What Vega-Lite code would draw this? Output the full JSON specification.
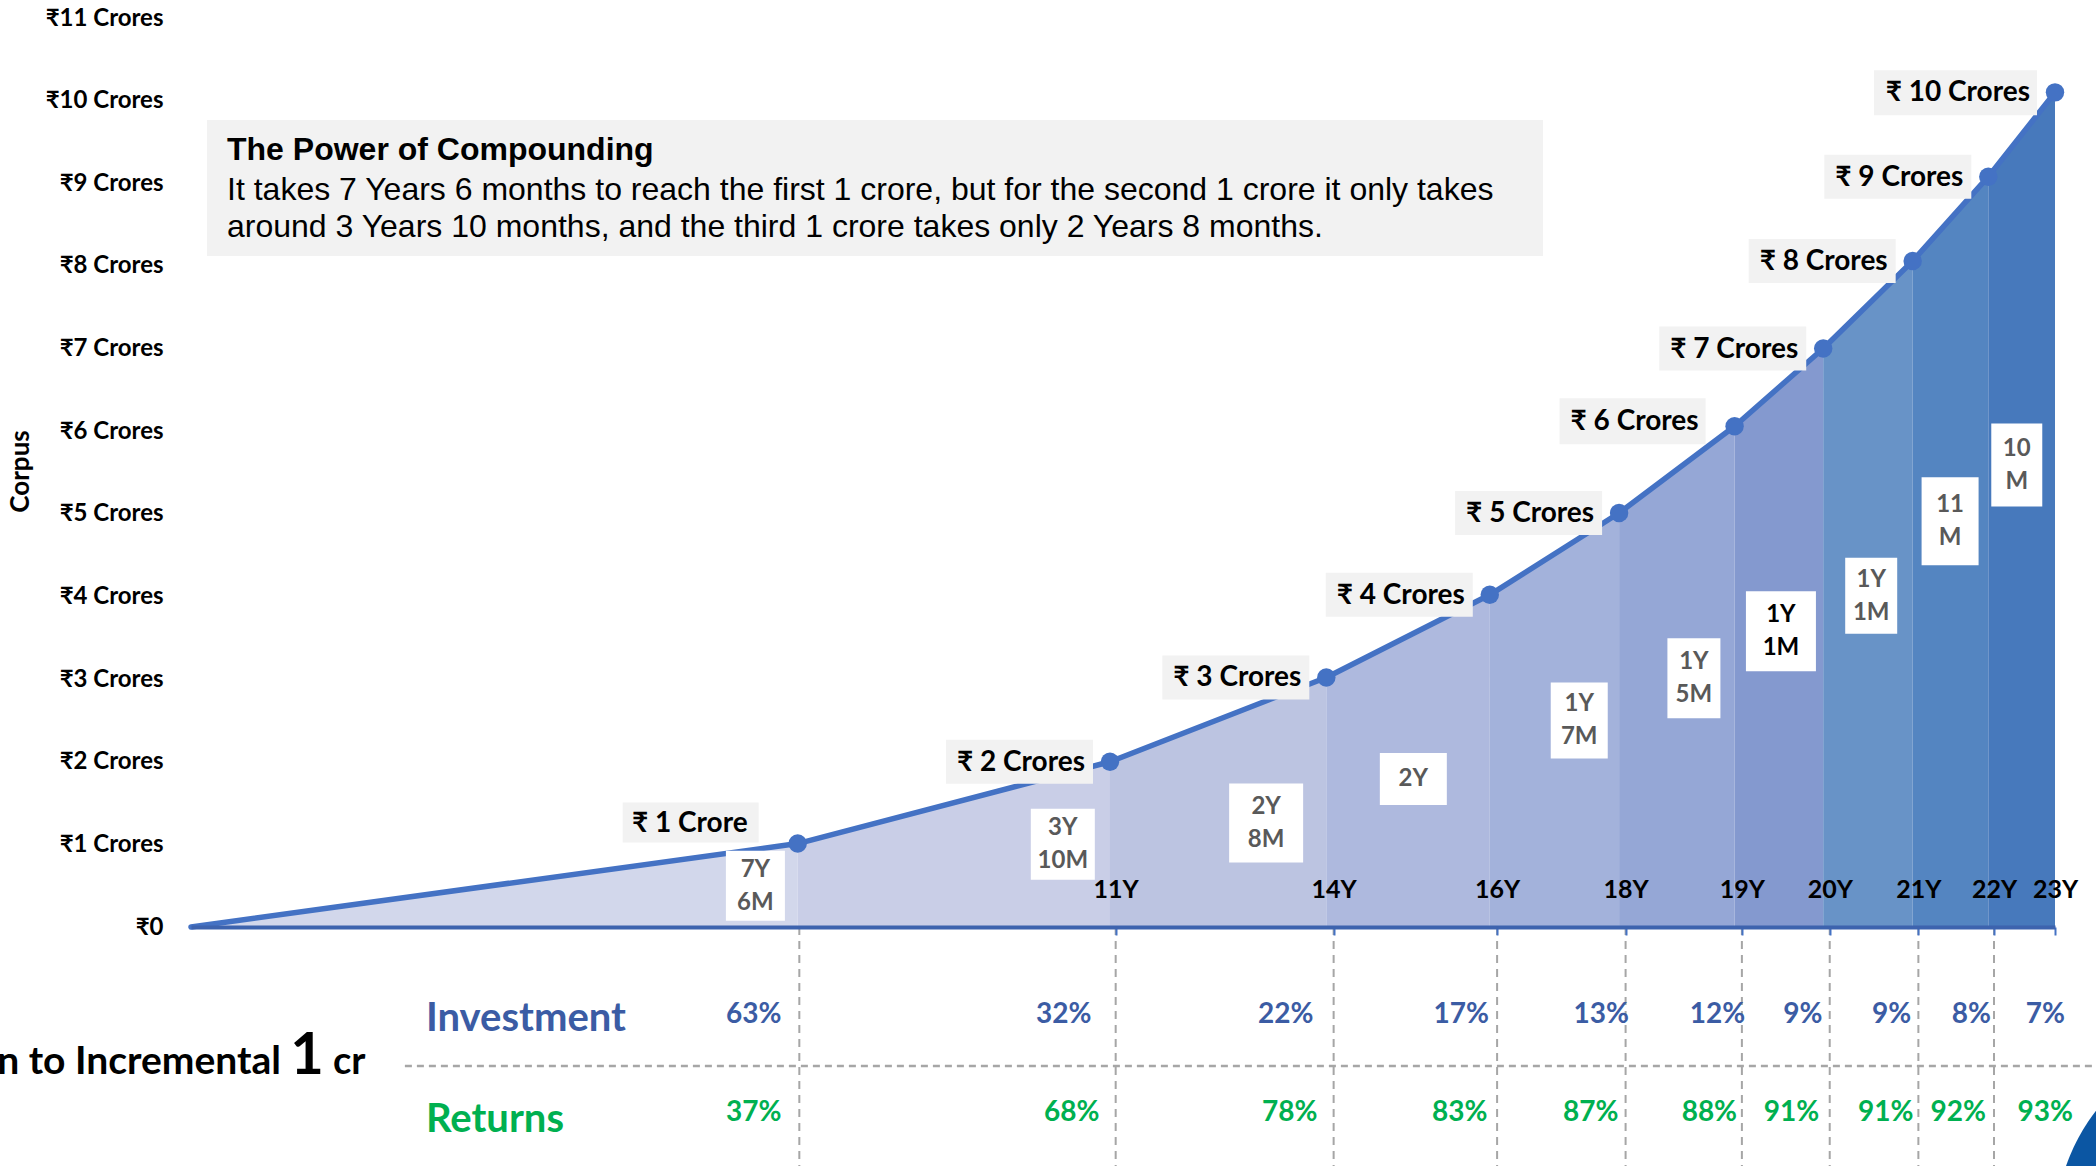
{
  "$schema": "https://vega.github.io/schema/vega-lite/v6.json",
  "width": 1864,
  "height": 1148,
  "autosize": {"type": "none"},
  "padding": {"left": 191, "top": 18, "right": 41, "bottom": 0},
  "background": "white",
  "config": {"view": {"stroke": null}, "axis": {"grid": false}},
  "datasets": {
    "pts": [
      {"seg": 1, "year": 0, "corpus": 0}, {"seg": 1, "year": 7.46, "corpus": 1.01},
      {"seg": 2, "year": 7.46, "corpus": 1.01}, {"seg": 2, "year": 11.3, "corpus": 2.0},
      {"seg": 3, "year": 11.3, "corpus": 2.0}, {"seg": 3, "year": 13.96, "corpus": 3.02},
      {"seg": 4, "year": 13.96, "corpus": 3.02}, {"seg": 4, "year": 15.97, "corpus": 4.02},
      {"seg": 5, "year": 15.97, "corpus": 4.02}, {"seg": 5, "year": 17.56, "corpus": 5.01},
      {"seg": 6, "year": 17.56, "corpus": 5.01}, {"seg": 6, "year": 18.98, "corpus": 6.06},
      {"seg": 7, "year": 18.98, "corpus": 6.06}, {"seg": 7, "year": 20.07, "corpus": 7.0},
      {"seg": 8, "year": 20.07, "corpus": 7.0}, {"seg": 8, "year": 21.17, "corpus": 8.06},
      {"seg": 9, "year": 21.17, "corpus": 8.06}, {"seg": 9, "year": 22.1, "corpus": 9.08},
      {"seg": 10, "year": 22.1, "corpus": 9.08}, {"seg": 10, "year": 22.92, "corpus": 10.1}
    ],
    "ms": [
      {"seg": 1, "end": 7.46, "tick": 7.48, "corpus": 1.01, "label": "₹ 1 Crore", "period": "7Y\n6M", "px": 6.94, "py": 0.5, "inv": 0.63, "ret": 0.37, "ix": 6.92, "rx": 6.92},
      {"seg": 2, "end": 11.3, "tick": 11.37, "corpus": 2.0, "label": "₹ 2 Crores", "period": "3Y\n10M", "px": 10.72, "py": 1.0, "inv": 0.32, "ret": 0.68, "ix": 10.73, "rx": 10.83},
      {"seg": 3, "end": 13.96, "tick": 14.05, "corpus": 3.02, "label": "₹ 3 Crores", "period": "2Y\n8M", "px": 13.22, "py": 1.26, "inv": 0.22, "ret": 0.78, "ix": 13.46, "rx": 13.51},
      {"seg": 4, "end": 15.97, "tick": 16.06, "corpus": 4.02, "label": "₹ 4 Crores", "period": "2Y", "px": 15.03, "py": 1.79, "inv": 0.17, "ret": 0.83, "ix": 15.62, "rx": 15.6},
      {"seg": 5, "end": 17.56, "tick": 17.64, "corpus": 5.01, "label": "₹ 5 Crores", "period": "1Y\n7M", "px": 17.07, "py": 2.5, "inv": 0.13, "ret": 0.87, "ix": 17.34, "rx": 17.21},
      {"seg": 6, "end": 18.98, "tick": 19.07, "corpus": 6.06, "label": "₹ 6 Crores", "period": "1Y\n5M", "px": 18.48, "py": 3.01, "inv": 0.12, "ret": 0.88, "ix": 18.77, "rx": 18.67},
      {"seg": 7, "end": 20.07, "tick": 20.15, "corpus": 7.0, "label": "₹ 7 Crores", "period": "1Y\n1M", "px": 19.55, "py": 3.58, "inv": 0.09, "ret": 0.91, "ix": 19.82, "rx": 19.68},
      {"seg": 8, "end": 21.17, "tick": 21.24, "corpus": 8.06, "label": "₹ 8 Crores", "period": "1Y\n1M", "px": 20.66, "py": 4.01, "inv": 0.09, "ret": 0.91, "ix": 20.91, "rx": 20.84},
      {"seg": 9, "end": 22.1, "tick": 22.17, "corpus": 9.08, "label": "₹ 9 Crores", "period": "11\nM", "px": 21.63, "py": 4.91, "inv": 0.08, "ret": 0.92, "ix": 21.89, "rx": 21.73},
      {"seg": 10, "end": 22.92, "tick": 22.92, "corpus": 10.1, "label": "₹ 10 Crores", "period": "10\nM", "px": 22.45, "py": 5.59, "inv": 0.07, "ret": 0.93, "ix": 22.8, "rx": 22.8}
    ]
  },
  "resolve": {"scale": {"shape": "independent"}},
  "layer": [
    {
      "data": {"name": "pts"},
      "mark": {"type": "area", "opacity": 1, "interpolate": "linear"},
      "encoding": {
        "x": {
          "field": "year", "type": "quantitative", "title": null,
          "scale": {"domain": [0, 22.92], "nice": false, "zero": false},
          "axis": {
            "values": [11.37, 14.05, 16.06, 17.64, 19.07, 20.15, 21.24, 22.17, 22.92],
            "labelExpr": "round(datum.value) + 'Y'",
            "title": null, "grid": false, "offset": -239, "zindex": 1,
            "domainColor": "#3D63AE", "domainWidth": 4,
            "tickColor": "#4472C4", "tickWidth": 2, "tickSize": 8,
            "labelPadding": -46, "labelBaseline": "middle",
            "labelFont": "Lato, 'Noto Sans', sans-serif", "labelFontSize": 25, "labelFontWeight": "bold", "labelColor": "#000000",
            "labelOverlap": false, "labelFlush": false, "labelBound": false
          }
        },
        "y": {
          "field": "corpus", "type": "quantitative", "stack": null, "title": "Corpus",
          "scale": {"domain": [-2.892, 11], "nice": false, "zero": false},
          "axis": {
            "values": [0, 1, 2, 3, 4, 5, 6, 7, 8, 9, 10, 11],
            "labelExpr": "datum.value == 0 ? '₹0' : '₹' + datum.value + ' Crores'",
            "title": "Corpus", "grid": false, "domain": false, "ticks": false, "tickSize": 0,
            "labelPadding": 28,
            "labelFont": "Lato, 'Noto Sans', sans-serif", "labelFontSize": 24, "labelFontWeight": "bold", "labelColor": "#000000",
            "labelOverlap": false, "labelBound": false,
            "titleFont": "Lato, 'Noto Sans', sans-serif", "titleFontSize": 26, "titleFontWeight": "bold", "titleColor": "#000000",
            "titleX": -171, "titleY": 453, "titleAngle": -90, "titleAlign": "center", "titleBaseline": "middle"
          }
        },
        "y2": {"datum": 0},
        "color": {
          "field": "seg", "type": "nominal",
          "scale": {
            "domain": [1, 2, 3, 4, 5, 6, 7, 8, 9, 10],
            "range": ["#D2D7EB", "#C9CEE7", "#BCC4E1", "#AEB9DE", "#A3B2DB", "#95A7D6", "#8499CF", "#6893C7", "#5485C1", "#4779BC"]
          },
          "legend": null
        }
      }
    },
    {
      "data": {"values": [{}]},
      "mark": {"type": "rect", "color": "#F2F2F2"},
      "encoding": {
        "x": {"datum": 0.197, "type": "quantitative"},
        "x2": {"datum": 16.624},
        "y": {"datum": 9.766, "type": "quantitative"},
        "y2": {"datum": 8.12}
      }
    },
    {
      "data": {"name": "ms"},
      "transform": [{"filter": "datum.seg < 10"}],
      "mark": {"type": "rule", "color": "#A6A6A6", "strokeWidth": 2, "strokeDash": [8, 6]},
      "encoding": {
        "x": {"field": "tick", "type": "quantitative"},
        "y": {"datum": 0, "type": "quantitative"},
        "y2": {"datum": -2.892}
      }
    },
    {
      "data": {"values": [{}]},
      "mark": {"type": "rule", "color": "#A6A6A6", "strokeWidth": 2.5, "strokeDash": [7, 5]},
      "encoding": {
        "x": {"datum": 2.63, "type": "quantitative"},
        "x2": {"datum": 23.42},
        "y": {"datum": -1.682, "type": "quantitative"}
      }
    },
    {
      "data": {"name": "pts"},
      "mark": {"type": "line", "color": "#4472C4", "strokeWidth": 5.5, "strokeCap": "round", "strokeJoin": "round"},
      "encoding": {
        "x": {"field": "year", "type": "quantitative"},
        "y": {"field": "corpus", "type": "quantitative"}
      }
    },
    {
      "data": {"name": "ms"},
      "mark": {"type": "point", "filled": true, "opacity": 1, "size": 4, "color": "#F2F2F2", "strokeWidth": 0},
      "encoding": {
        "x": {"field": "end", "type": "quantitative"},
        "y": {"field": "corpus", "type": "quantitative"},
        "shape": {
          "field": "seg", "type": "nominal", "legend": null,
          "scale": {
            "domain": [1, 2, 3, 4, 5, 6, 7, 8, 9, 10],
            "range": [
              "M-175,-41H-39V-1H-175Z",
              "M-164,-22H-17V22H-164Z",
              "M-164,-22H-17V22H-164Z",
              "M-164,-22H-17V22H-164Z",
              "M-164,-22H-17V22H-164Z",
              "M-175,-28H-29V18H-175Z",
              "M-164,-22H-17V22H-164Z",
              "M-164,-22H-17V22H-164Z",
              "M-164,-22H-17V22H-164Z",
              "M-181,-22H-18V23H-181Z"
            ]
          }
        }
      }
    },
    {
      "data": {"name": "ms"},
      "mark": {"type": "point", "filled": true, "opacity": 1, "size": 340, "color": "#4472C4", "strokeWidth": 0},
      "encoding": {
        "x": {"field": "end", "type": "quantitative"},
        "y": {"field": "corpus", "type": "quantitative"}
      }
    },
    {
      "data": {"name": "ms"},
      "transform": [{"filter": "datum.seg != 1 && datum.seg != 6"}],
      "mark": {"type": "text", "align": "right", "baseline": "middle", "dx": -25, "dy": 1, "font": "Lato, 'Noto Sans', sans-serif", "fontSize": 28, "fontWeight": "bold", "color": "#000000"},
      "encoding": {
        "x": {"field": "end", "type": "quantitative"},
        "y": {"field": "corpus", "type": "quantitative"},
        "text": {"field": "label"}
      }
    },
    {
      "data": {"name": "ms"},
      "transform": [{"filter": "datum.seg == 1"}],
      "mark": {"type": "text", "align": "right", "baseline": "middle", "dx": -50, "dy": -20, "font": "Lato, 'Noto Sans', sans-serif", "fontSize": 28, "fontWeight": "bold", "color": "#000000"},
      "encoding": {
        "x": {"field": "end", "type": "quantitative"},
        "y": {"field": "corpus", "type": "quantitative"},
        "text": {"field": "label"}
      }
    },
    {
      "data": {"name": "ms"},
      "transform": [{"filter": "datum.seg == 6"}],
      "mark": {"type": "text", "align": "right", "baseline": "middle", "dx": -36, "dy": -4, "font": "Lato, 'Noto Sans', sans-serif", "fontSize": 28, "fontWeight": "bold", "color": "#000000"},
      "encoding": {
        "x": {"field": "end", "type": "quantitative"},
        "y": {"field": "corpus", "type": "quantitative"},
        "text": {"field": "label"}
      }
    },
    {
      "data": {"name": "ms"},
      "mark": {"type": "point", "filled": true, "opacity": 1, "size": 4, "color": "#FFFFFF", "strokeWidth": 0},
      "encoding": {
        "x": {"field": "px", "type": "quantitative"},
        "y": {"field": "py", "type": "quantitative"},
        "shape": {
          "field": "seg", "type": "nominal", "legend": null,
          "scale": {
            "domain": [1, 2, 3, 4, 5, 6, 7, 8, 9, 10],
            "range": [
              "M-29.5,-35H29.5V35H-29.5Z",
              "M-32,-35.5H32V35.5H-32Z",
              "M-37,-39.5H37V39.5H-37Z",
              "M-33.5,-26H33.5V26H-33.5Z",
              "M-28.5,-38H28.5V38H-28.5Z",
              "M-26.5,-40H26.5V40H-26.5Z",
              "M-35,-40H35V40H-35Z",
              "M-26,-38H26V38H-26Z",
              "M-28.5,-44H28.5V44H-28.5Z",
              "M-25.5,-41.5H25.5V41.5H-25.5Z"
            ]
          }
        }
      }
    },
    {
      "data": {"name": "ms"},
      "transform": [{"filter": "datum.seg != 4"}],
      "mark": {"type": "text", "align": "center", "baseline": "middle", "dy": -16, "lineBreak": "\n", "lineHeight": 33, "font": "Lato, 'Noto Sans', sans-serif", "fontSize": 24, "fontWeight": "bold"},
      "encoding": {
        "x": {"field": "px", "type": "quantitative"},
        "y": {"field": "py", "type": "quantitative"},
        "text": {"field": "period"},
        "color": {"condition": {"test": "datum.seg == 7", "value": "#000000"}, "value": "#595959"}
      }
    },
    {
      "data": {"name": "ms"},
      "transform": [{"filter": "datum.seg == 4"}],
      "mark": {"type": "text", "align": "center", "baseline": "middle", "font": "Lato, 'Noto Sans', sans-serif", "fontSize": 24, "fontWeight": "bold", "color": "#595959"},
      "encoding": {
        "x": {"field": "px", "type": "quantitative"},
        "y": {"field": "py", "type": "quantitative"},
        "text": {"field": "period"}
      }
    },
    {
      "data": {"name": "ms"},
      "mark": {"type": "text", "align": "center", "baseline": "middle", "font": "Lato, 'Noto Sans', sans-serif", "fontSize": 28, "fontWeight": "bold", "color": "#3B5CA4"},
      "encoding": {
        "x": {"field": "ix", "type": "quantitative"},
        "y": {"datum": -1.063, "type": "quantitative"},
        "text": {"field": "inv", "type": "quantitative", "format": ".0%"}
      }
    },
    {
      "data": {"name": "ms"},
      "mark": {"type": "text", "align": "center", "baseline": "middle", "font": "Lato, 'Noto Sans', sans-serif", "fontSize": 28, "fontWeight": "bold", "color": "#00B050"},
      "encoding": {
        "x": {"field": "rx", "type": "quantitative"},
        "y": {"datum": -2.253, "type": "quantitative"},
        "text": {"field": "ret", "type": "quantitative", "format": ".0%"}
      }
    },
    {
      "data": {"values": [{"t": "Investment"}]},
      "mark": {"type": "text", "align": "left", "baseline": "middle", "font": "Lato, 'Noto Sans', sans-serif", "fontSize": 40, "fontWeight": "bold", "color": "#3B5CA4"},
      "encoding": {
        "x": {"datum": 2.889, "type": "quantitative"},
        "y": {"datum": -1.119, "type": "quantitative"},
        "text": {"field": "t"}
      }
    },
    {
      "data": {"values": [{"t": "Returns"}]},
      "mark": {"type": "text", "align": "left", "baseline": "middle", "font": "Lato, 'Noto Sans', sans-serif", "fontSize": 40, "fontWeight": "bold", "color": "#00B050"},
      "encoding": {
        "x": {"datum": 2.889, "type": "quantitative"},
        "y": {"datum": -2.33, "type": "quantitative"},
        "text": {"field": "t"}
      }
    },
    {
      "data": {"values": [{"t": "Contribution to Incremental"}]},
      "mark": {"type": "text", "align": "right", "baseline": "alphabetic", "font": "Lato, 'Noto Sans', sans-serif", "fontSize": 39, "fontWeight": "bold", "color": "#000000"},
      "encoding": {
        "x": {"datum": 1.107, "type": "quantitative"},
        "y": {"datum": -1.779, "type": "quantitative"},
        "text": {"field": "t"}
      }
    },
    {
      "data": {"values": [{"t": "1"}]},
      "mark": {"type": "text", "align": "center", "baseline": "alphabetic", "font": "Lato, 'Noto Sans', sans-serif", "fontSize": 58, "fontWeight": "bold", "color": "#000000"},
      "encoding": {
        "x": {"datum": 1.426, "type": "quantitative"},
        "y": {"datum": -1.779, "type": "quantitative"},
        "text": {"field": "t"}
      }
    },
    {
      "data": {"values": [{"t": "cr"}]},
      "mark": {"type": "text", "align": "left", "baseline": "alphabetic", "font": "Lato, 'Noto Sans', sans-serif", "fontSize": 38, "fontWeight": "bold", "color": "#000000"},
      "encoding": {
        "x": {"datum": 1.745, "type": "quantitative"},
        "y": {"datum": -1.779, "type": "quantitative"},
        "text": {"field": "t"}
      }
    },
    {
      "data": {"values": [{"t": "The Power of Compounding"}]},
      "mark": {"type": "text", "align": "left", "baseline": "alphabetic", "font": "Liberation Sans, Arial, sans-serif", "fontSize": 32, "fontWeight": "bold", "color": "#000000"},
      "encoding": {
        "x": {"datum": 0.443, "type": "quantitative"},
        "y": {"datum": 9.282, "type": "quantitative"},
        "text": {"field": "t"}
      }
    },
    {
      "data": {"values": [{"t": "It takes 7 Years 6 months to reach the first 1 crore, but for the second 1 crore it only takes\naround 3 Years 10 months, and the third 1 crore takes only 2 Years 8 months."}]},
      "mark": {"type": "text", "align": "left", "baseline": "alphabetic", "lineBreak": "\n", "lineHeight": 37, "font": "Liberation Sans, Arial, sans-serif", "fontSize": 32, "color": "#000000"},
      "encoding": {
        "x": {"datum": 0.443, "type": "quantitative"},
        "y": {"datum": 8.798, "type": "quantitative"},
        "text": {"field": "t"}
      }
    },
    {
      "data": {"values": [{}]},
      "mark": {"type": "point", "shape": "circle", "filled": true, "opacity": 1, "size": 152100, "color": "#0B56A3", "strokeWidth": 0},
      "encoding": {
        "x": {"datum": 25.32, "type": "quantitative"},
        "y": {"datum": -3.667, "type": "quantitative"}
      }
    }
  ]
}
